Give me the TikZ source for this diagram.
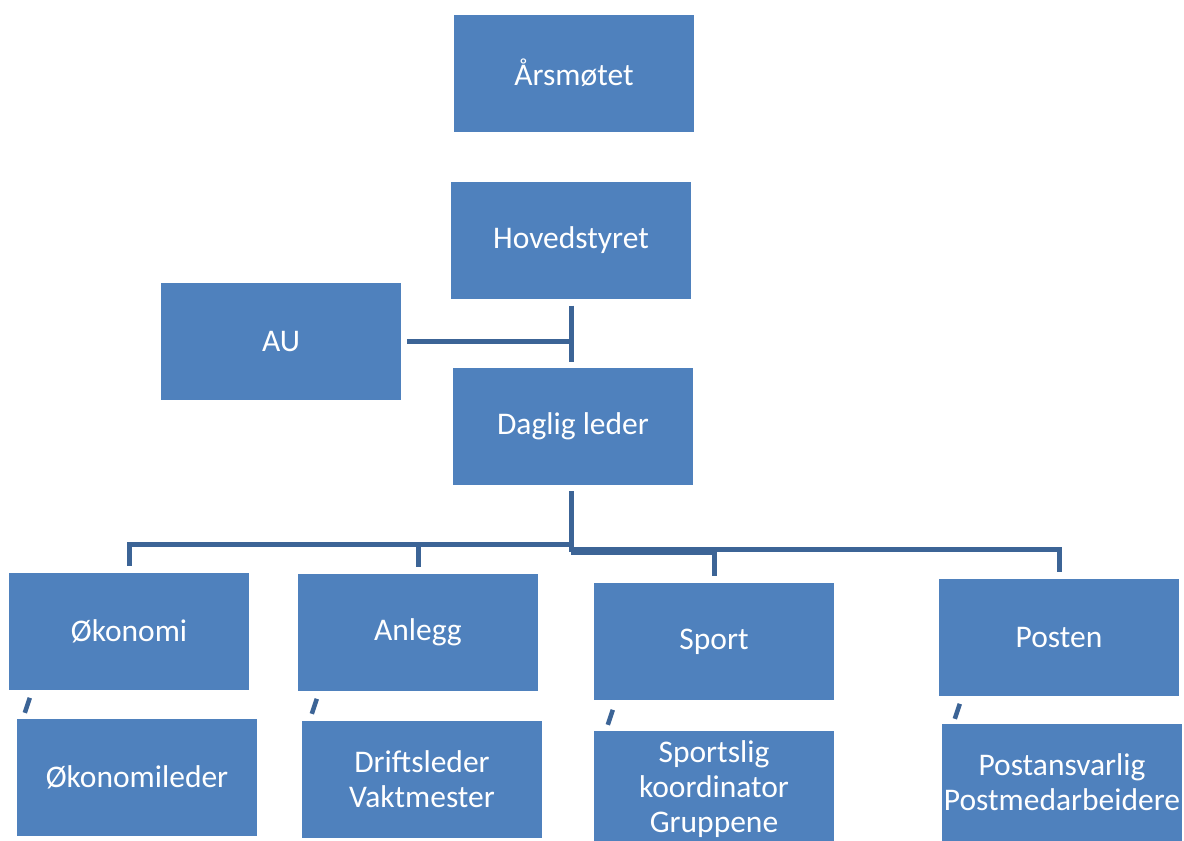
\documentclass[tikz,border=0pt]{standalone}
\usepackage{fontspec}
\setmainfont{Carlito}
\usetikzlibrary{positioning,calc}
\definecolor{boxblue}{HTML}{4F81BD}
\definecolor{linkblue}{HTML}{3C6496}
\tikzset{
  orgbox/.style={rectangle, fill=boxblue, text=white, minimum width=240pt, minimum height=117pt,
    inner sep=0pt, align=center, font=\fontsize{31.5}{35}\selectfont},
  link/.style={draw=linkblue, line width=5pt},
  tick/.style={draw=linkblue, line width=4.5pt},
}

\begin{document}
\begin{tikzpicture}[x=1pt,y=-1pt]
  \useasboundingbox (0,0) rectangle (1184,841);
  % top of the chart
  \node[orgbox] (arsmote) at (574,73) {Årsmøtet};
  \node[orgbox] (hoved) at (571,240) {Hovedstyret};
  \node[orgbox] (au) at (281,341.5) {AU};
  \node[orgbox] (daglig) at (573,426.5) {Daglig leder};

  % departments, and who is in each
  \foreach \nm/\x/\y/\lbl in {okonomi/129/631.5/Økonomi, anlegg/418/632.5/Anlegg,
                              sport/714/641.5/Sport, posten/1059/637.5/Posten}
    \node[orgbox] (\nm) at (\x,\y) {\lbl};
  \foreach \nm/\x/\y/\lbl in {okleder/137/777.5/Økonomileder, drift/422/779.5/{Driftsleder\\Vaktmester},
                              sportslig/714/789.5/{Sportslig\\koordinator\\Gruppene},
                              postansv/1062/782.5/{Postansvarlig\\Postmedarbeidere}}
    \node[orgbox] (\nm) at (\x,\y) {\lbl};

  % lines
  \draw[link] ([yshift=-7pt]hoved.south) -- ([yshift=6pt]hoved.south |- daglig.north);
  \draw[link] ([xshift=6pt]au.east) -- (au.east -| hoved.south);
  \coordinate (lbar) at (571,544);
  \coordinate (rbar) at (571,549);
  \draw[link] ([yshift=-6pt]hoved.south |- daglig.south) -- ([yshift=-3pt]rbar);
  \draw[link] (lbar) -| ([yshift=7pt]okonomi.north);
  \draw[link] (lbar -| anlegg.north) -- ([yshift=7pt]anlegg.north);
  \draw[link] (rbar) -| ([yshift=7pt]posten.north);
  \draw[link] ([yshift=-3pt]rbar) -| ([yshift=7pt]sport.north);

  % small stubs over the lower boxes
  \foreach \nm/\dx/\dy in {okleder/8/6, drift/10/7, sportslig/14/6, postansv/13/5}
    \draw[tick] ([shift={(\dx pt,\dy pt)}]\nm.north west) -- ++(5pt,15pt);
\end{tikzpicture}
\end{document}
